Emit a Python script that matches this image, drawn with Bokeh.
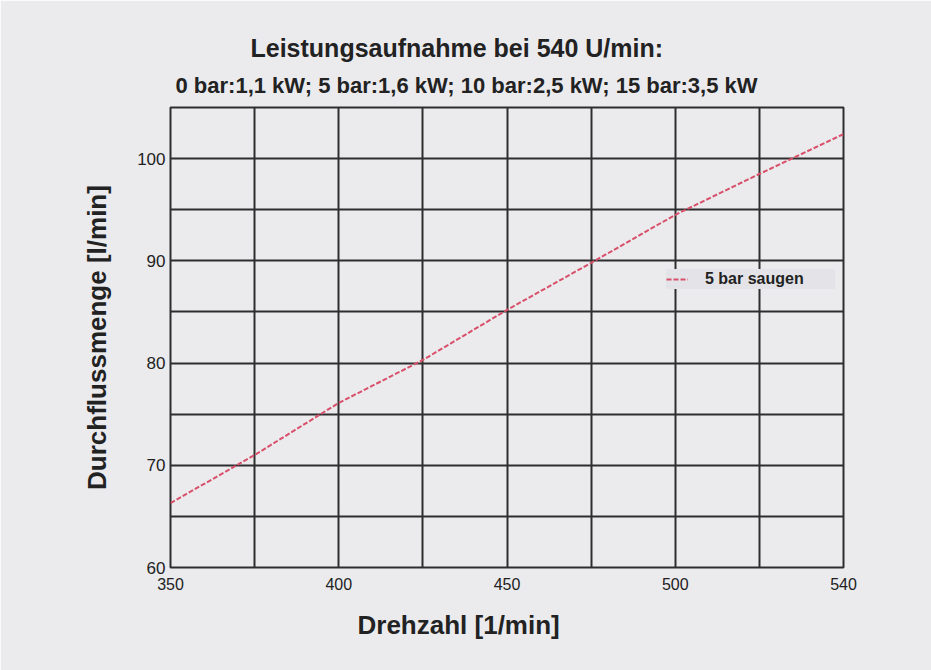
from bokeh.plotting import figure
from bokeh.models import Range1d, FixedTicker, Legend, LegendItem, Title
from bokeh.embed import file_html
from bokeh.resources import INLINE

# ---- data ----
rpm = [350, 375, 400, 425, 450, 475, 500, 525, 540]
flow = [66.3, 71.0, 76.1, 80.3, 85.2, 89.8, 94.5, 98.5, 102.4]
labelled_rpm = [350, 400, 450, 500, 540]
y_ticks = [60, 70, 80, 90, 100]
y_grid = [60, 65, 70, 75, 80, 85, 90, 95, 100, 105]
title1 = "Leistungsaufnahme bei 540 U/min:"
title2 = "0 bar:1,1 kW; 5 bar:1,6 kW; 10 bar:2,5 kW; 15 bar:3,5 kW"
series_name = "5 bar saugen"
x_title = "Drehzahl [1/min]"
y_title = "Durchflussmenge [l/min]"

idx = list(range(len(rpm)))
FONT = "Liberation Sans"
BG = "#ebebee"
GRID = "#2e2e2e"
TXT = "#222222"

p = figure(width=931, height=670, output_backend="svg", toolbar_location=None,
           x_range=Range1d(0, len(rpm) - 1), y_range=Range1d(60, 105),
           min_border_left=170, min_border_right=88, min_border_top=107,
           min_border_bottom=103)
p.background_fill_color = BG
p.border_fill_color = BG
p.outline_line_color = GRID
p.outline_line_width = 2

# grid
p.xgrid.ticker = FixedTicker(ticks=idx)
p.ygrid.ticker = FixedTicker(ticks=y_grid)
for g in (p.xgrid, p.ygrid):
    g.grid_line_color = GRID
    g.grid_line_width = 2

# axes
p.xaxis.ticker = FixedTicker(ticks=[i for i, r in enumerate(rpm) if r in labelled_rpm])
p.xaxis.major_label_overrides = {i: str(r) for i, r in enumerate(rpm) if r in labelled_rpm}
p.yaxis.ticker = FixedTicker(ticks=y_ticks)
for ax in (p.xaxis, p.yaxis):
    ax.axis_line_color = None
    ax.major_tick_line_color = None
    ax.minor_tick_line_color = None
    ax.major_tick_out = 0
    ax.major_tick_in = 0
    ax.major_label_text_font = FONT
    ax.major_label_text_color = TXT
p.xaxis.major_label_text_font_size = "16px"
p.yaxis.major_label_text_font_size = "17px"
p.xaxis.major_label_standoff = 10
p.yaxis.major_label_standoff = 5

p.yaxis.axis_label = y_title
p.yaxis.axis_label_text_font = FONT
p.yaxis.axis_label_text_font_size = "26px"
p.yaxis.axis_label_text_font_style = "bold"
p.yaxis.axis_label_text_color = TXT
p.yaxis.axis_label_standoff = 22

p.add_layout(Title(text=x_title, align="left", offset=187, text_font=FONT,
                   text_font_size="26px", text_font_style="bold",
                   text_color=TXT, standoff=31), "below")
p.add_layout(Title(text=title2, align="left", offset=5, text_font=FONT,
                   text_font_size="22px", text_font_style="bold",
                   text_color=TXT, standoff=19, text_line_height=0.8), "above")
p.add_layout(Title(text=title1, align="left", offset=80, text_font=FONT,
                   text_font_size="25px", text_font_style="bold",
                   text_color=TXT, standoff=0, text_line_height=1.8), "above")

r = p.line(idx, flow, line_color="#d8506a", line_width=2, line_dash="5 2")

legend = Legend(items=[LegendItem(label=series_name, renderers=[r])],
                location=(496, 278), padding=8, spacing=0,
                glyph_width=22, label_standoff=17, label_width=130,
                background_fill_color="#e4e4e8", background_fill_alpha=1.0,
                border_line_color=None,
                label_text_font=FONT, label_text_font_size="16px",
                label_text_font_style="bold", label_text_color=TXT)
p.add_layout(legend, "center")

open("out.html", "w").write(file_html(p, INLINE))
